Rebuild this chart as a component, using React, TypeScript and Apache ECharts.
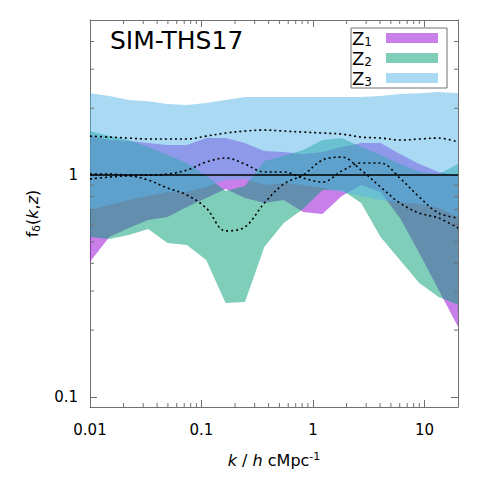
import React, { useEffect, useRef } from 'react';
import * as echarts from 'echarts';

// k / h cMpc^-1 sample positions
const kValues = [0.01, 0.01492, 0.02226, 0.03321, 0.04955, 0.07393, 0.1103, 0.1646, 0.2455, 0.3663, 0.5465, 0.8154, 1.217, 1.814, 2.707, 4.038, 6.025, 8.988, 13.41, 20.0];

// Z1 band
const z1Upper = [1.498, 1.438, 1.423, 1.394, 1.365, 1.365, 1.468, 1.468, 1.394, 1.283, 1.269, 1.243, 1.269, 1.337, 1.394, 1.394, 1.243, 1.121, 1.032, 0.990];
const z1Lower = [0.406, 0.526, 0.577, 0.627, 0.647, 0.718, 0.788, 0.865, 0.788, 0.748, 0.772, 0.681, 0.667, 0.804, 0.901, 0.838, 0.640, 0.445, 0.303, 0.207];
// Z2 band
const z2Upper = [1.579, 1.498, 1.438, 1.337, 1.230, 1.133, 0.990, 0.847, 0.892, 1.156, 1.218, 1.296, 1.438, 1.468, 1.337, 1.230, 1.121, 1.032, 1.010, 1.121];
const z2Lower = [0.526, 0.515, 0.537, 0.571, 0.494, 0.484, 0.414, 0.265, 0.268, 0.474, 0.608, 0.703, 0.856, 0.856, 0.748, 0.526, 0.414, 0.326, 0.282, 0.260];
// Z3 band
const z3Upper = [2.34, 2.27, 2.18, 2.15, 2.09, 2.07, 2.11, 2.18, 2.25, 2.25, 2.25, 2.25, 2.25, 2.25, 2.25, 2.27, 2.32, 2.34, 2.37, 2.34];
const z3Lower = [0.696, 0.733, 0.772, 0.804, 0.838, 0.838, 0.883, 0.950, 0.959, 0.901, 0.920, 0.901, 0.874, 0.838, 0.804, 0.772, 0.756, 0.740, 0.710, 0.647];

// dotted curves
const curveA = [1.498, 1.483, 1.468, 1.453, 1.453, 1.453, 1.498, 1.546, 1.579, 1.595, 1.579, 1.562, 1.546, 1.530, 1.483, 1.468, 1.438, 1.453, 1.468, 1.408];
const curveB = [1.010, 1.010, 1.000, 1.000, 1.010, 1.053, 1.144, 1.193, 1.121, 1.032, 1.032, 0.969, 0.930, 1.042, 1.133, 1.133, 0.969, 0.796, 0.674, 0.640];
const curveC = [0.959, 0.979, 0.990, 0.950, 0.874, 0.813, 0.710, 0.560, 0.583, 0.748, 0.911, 1.000, 1.168, 1.205, 1.053, 0.883, 0.748, 0.674, 0.640, 0.577];

const xMin = 0.01;
const xMax = 20;
const yMin = 0.09;
const yMax = 5;
const xMinorTicks = [0.02, 0.03, 0.04, 0.05, 0.06, 0.07, 0.08, 0.09, 0.2, 0.3, 0.4, 0.5, 0.6, 0.7, 0.8, 0.9, 2, 3, 4, 5, 6, 7, 8, 9];
const yMinorTicks = [0.2, 0.3, 0.4, 0.5, 0.6, 0.7, 0.8, 0.9, 2, 3, 4];

const FONT = 'DejaVu Sans';
const FRAME = '#707070';

const fmtLog = (v: number) => {
  const l = Math.log10(v);
  const r = Math.round(l);
  if (Math.abs(l - r) > 1e-6) return '';
  return r < 0 ? Math.pow(10, r).toFixed(-r) : String(Math.pow(10, r));
};

const bandSeries = (name: string, color: string, upper: number[], lower: number[]) => ({
  type: 'custom',
  name,
  coordinateSystem: 'cartesian2d',
  silent: true,
  itemStyle: { color },
  encode: { x: 0, y: 1 },
  data: [[1, 1]],
  z: 1,
  renderItem: (_p: any, api: any) => {
    const pts: number[][] = [];
    for (let i = 0; i < kValues.length; i++) pts.push(api.coord([kValues[i], upper[i]]));
    for (let i = kValues.length - 1; i >= 0; i--) pts.push(api.coord([kValues[i], lower[i]]));
    return { type: 'polygon', shape: { points: pts }, style: { fill: color, stroke: null } };
  },
});

const dotted = (vals: number[]) => ({
  type: 'line',
  data: kValues.map((k, i) => [k, vals[i]]),
  smooth: 0.35,
  symbol: 'none',
  silent: true,
  z: 3,
  lineStyle: { color: '#000', width: 1.6, type: [2, 3] },
});

export default function App() {
  const ref = useRef<HTMLDivElement>(null);
  useEffect(() => {
    if (!ref.current) return;
    const chart = echarts.init(ref.current, null, { renderer: 'svg' });
    const axisCommon = {
      type: 'log',
      logBase: 10,
      axisLine: { show: true, onZero: false, lineStyle: { color: FRAME, width: 1 } },
      axisTick: { show: true, inside: true, length: 7, lineStyle: { color: FRAME, width: 1 } },
      splitLine: { show: false },
      minorTick: { show: false },
    };
    chart.setOption({
      animation: false,
      backgroundColor: '#fff',
      title: {
        text: 'SIM-THS17',
        left: 110,
        top: 28,
        padding: 0,
        textStyle: { fontSize: 25, fontWeight: 'normal', color: '#000', fontFamily: FONT },
      },
      legend: {
        orient: 'vertical',
        right: 44,
        top: 28,
        data: ['Z1', 'Z2', 'Z3'],
        icon: 'rect',
        itemWidth: 52,
        itemHeight: 10,
        itemGap: 0,
        align: 'right',
        selectedMode: false,
        borderColor: FRAME,
        borderWidth: 1,
        padding: [0, 9, 0, 1],
        formatter: (n: string) => `Z{s|${n.slice(1)}}`,
        textStyle: {
          fontSize: 18,
          lineHeight: 20,
          color: '#000',
          fontFamily: FONT,
          rich: { s: { fontSize: 12, lineHeight: 12, verticalAlign: 'bottom', fontFamily: FONT, color: '#000', padding: [0, 9, 0, 0] } },
        },
      },
      grid: { left: 90, top: 20, width: 368, height: 387 },
      xAxis: [
        {
          ...axisCommon,
          position: 'bottom',
          min: xMin,
          max: xMax,
          axisLabel: { formatter: fmtLog, margin: 15, color: '#000', fontSize: 15, fontFamily: FONT },
          name: '{i|k} / {i|h} cMpc{sup|-1}',
          nameLocation: 'middle',
          nameGap: 44,
          nameTextStyle: {
            fontSize: 16,
            color: '#000',
            fontFamily: FONT,
            lineHeight: 18,
            rich: {
              i: { fontSize: 16, fontStyle: 'italic', fontFamily: FONT, color: '#000', lineHeight: 18 },
              sup: { fontSize: 11, fontFamily: FONT, color: '#000', verticalAlign: 'top', lineHeight: 11 },
            },
          },
        },
        {
          ...axisCommon,
          position: 'top',
          min: xMin,
          max: xMax,
          axisLabel: { show: false },
        },
      ],
      yAxis: [
        {
          ...axisCommon,
          position: 'left',
          min: yMin,
          max: yMax,
          axisLabel: { formatter: fmtLog, margin: 12, color: '#000', fontSize: 15, fontFamily: FONT },
          name: 'f{sub|δ}({i|k},{i|z})',
          nameLocation: 'middle',
          nameRotate: 90,
          nameGap: 48,
          nameTextStyle: {
            fontSize: 16,
            color: '#000',
            fontFamily: FONT,
            lineHeight: 20,
            rich: {
              i: { fontSize: 16, fontStyle: 'italic', fontFamily: FONT, color: '#000', lineHeight: 20 },
              sub: { fontSize: 11, fontFamily: FONT, color: '#000', verticalAlign: 'bottom', lineHeight: 11 },
            },
          },
        },
        {
          ...axisCommon,
          position: 'right',
          min: yMin,
          max: yMax,
          axisLabel: { show: false },
        },
      ],
      series: [
        bandSeries('Z1', 'rgba(148,0,211,0.5)', z1Upper, z1Lower),
        bandSeries('Z2', 'rgba(0,158,115,0.5)', z2Upper, z2Lower),
        bandSeries('Z3', 'rgba(86,180,233,0.5)', z3Upper, z3Lower),
        {
          type: 'line',
          data: [[xMin, 1], [xMax, 1]],
          symbol: 'none',
          silent: true,
          z: 2,
          lineStyle: { color: '#000', width: 1.5 },
        },
        dotted(curveA),
        dotted(curveB),
        dotted(curveC),
        {
          type: 'custom',
          coordinateSystem: 'cartesian2d',
          silent: true,
          encode: { x: 0, y: 1 },
          data: [[1, 1]],
          z: 5,
          renderItem: (_p: any, api: any) => {
            const lb = api.coord([xMin, yMin]);
            const rt = api.coord([xMax, yMax]);
            const left = lb[0], bottom = lb[1], right = rt[0], top = rt[1];
            const st = { stroke: FRAME, lineWidth: 1 };
            const children: any[] = [];
            xMinorTicks.forEach((v) => {
              const px = api.coord([v, 1])[0];
              children.push({ type: 'line', shape: { x1: px, y1: bottom, x2: px, y2: bottom - 4 }, style: st });
              children.push({ type: 'line', shape: { x1: px, y1: top, x2: px, y2: top + 4 }, style: st });
            });
            yMinorTicks.forEach((v) => {
              const py = api.coord([1, v])[1];
              children.push({ type: 'line', shape: { x1: left, y1: py, x2: left + 4, y2: py }, style: st });
              children.push({ type: 'line', shape: { x1: right, y1: py, x2: right - 4, y2: py }, style: st });
            });
            return { type: 'group', children };
          },
        },
      ],
    });
    return () => chart.dispose();
  }, []);
  return <div ref={ref} style={{ position: 'fixed', left: 0, top: 0, width: 491, height: 491 }} />;
}
